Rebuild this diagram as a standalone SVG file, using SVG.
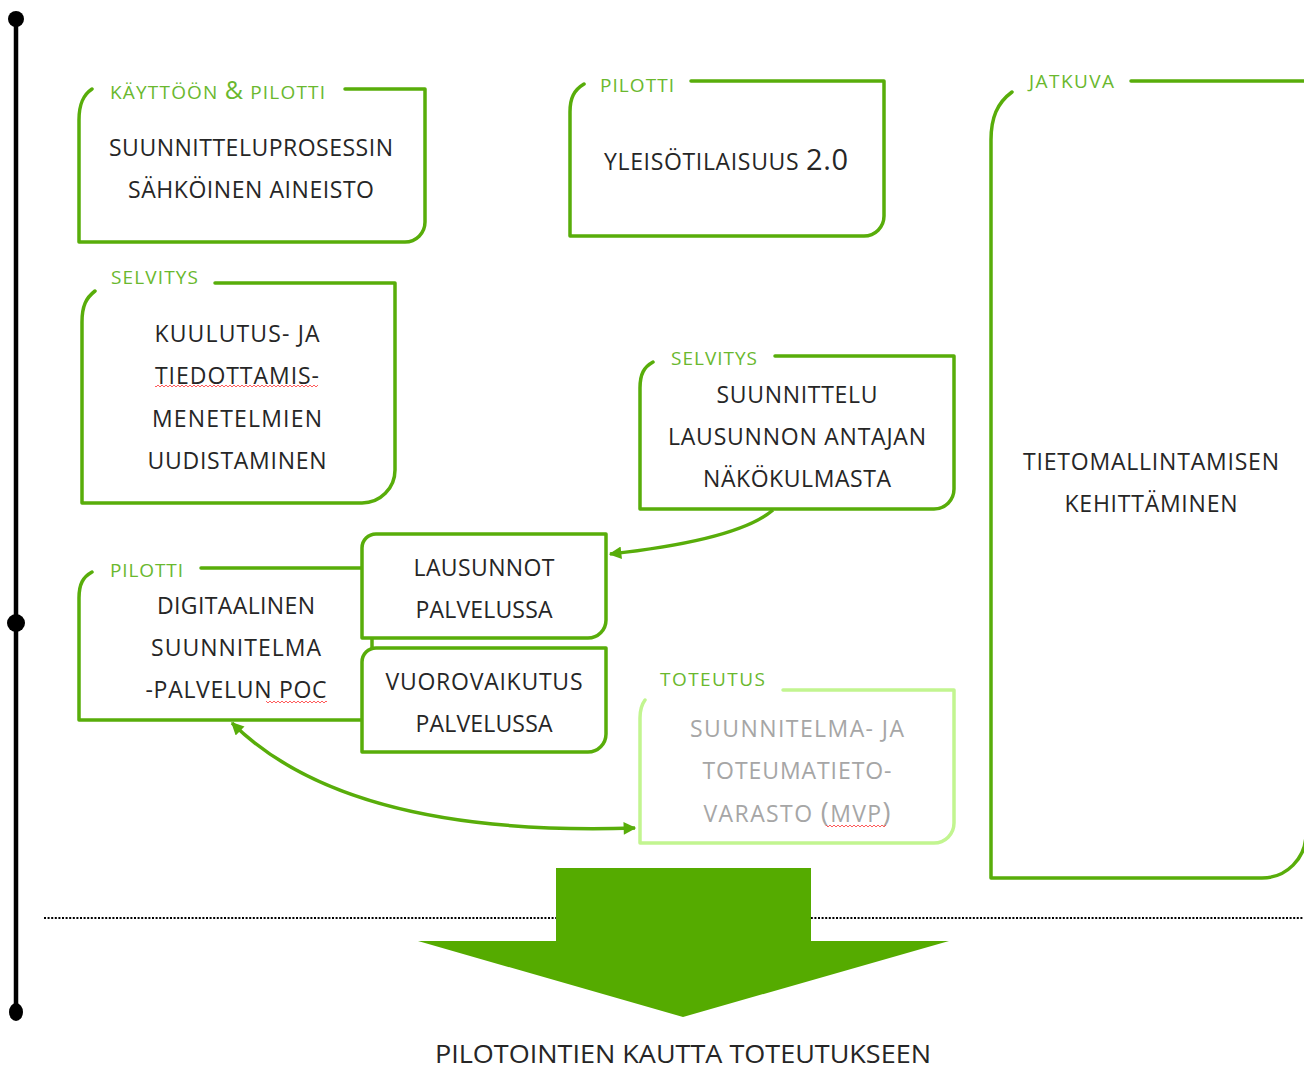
<svg xmlns="http://www.w3.org/2000/svg" width="1304" height="1070" viewBox="0 0 1304 1070">
<style>
.box{fill:none;stroke:#58ad0a;stroke-width:3.5;stroke-linecap:round;stroke-linejoin:round}
.boxw{fill:#fff;stroke:#58ad0a;stroke-width:3.5;stroke-linejoin:round}
.boxl{fill:none;stroke:#c2f590;stroke-width:3.5;stroke-linecap:round;stroke-linejoin:round}
.lbl{font-family:"Open Sans","Noto Sans",sans-serif;font-size:19px;fill:#6ab82e}
.t{font-family:"Open Sans","Noto Sans",sans-serif;font-size:23px;fill:#262626;text-anchor:middle}
.tg{font-family:"Open Sans","Noto Sans",sans-serif;font-size:23px;fill:#a6a6a6;text-anchor:middle}
.conn{fill:none;stroke:#58ad0a;stroke-width:3.5}
.sq{fill:url(#wavy)}
</style>
<defs>
<marker id="ah" viewBox="0 0 10 10" refX="9" refY="5" markerWidth="4" markerHeight="3.6" orient="auto-start-reverse" markerUnits="strokeWidth">
<path d="M0,0 L10,5 L0,10 z" fill="#58ad0a"/>
</marker>
<pattern id="wavy" x="0" y="0" width="4" height="4" patternUnits="userSpaceOnUse">
<path d="M0,3 L2,1 L4,3" fill="none" stroke="#ff4a4a" stroke-width="0.9"/>
</pattern>
</defs>
<rect width="1304" height="1070" fill="#fff"/>

<g id="timeline">
<line x1="16" y1="19" x2="16" y2="1012" stroke="#000" stroke-width="4.5"/>
<circle cx="16" cy="19" r="8" fill="#000"/>
<circle cx="16" cy="623" r="9" fill="#000"/>
<ellipse cx="16" cy="1012" rx="7" ry="9" fill="#000"/>
</g>

<g id="dotted-line">
<line x1="44" y1="918" x2="1304" y2="918" stroke="#000" stroke-width="2" stroke-dasharray="2,1.6"/>
</g>

<g id="big-arrow">
<path d="M556,868 H811 V941 H949 L683,1017 L418,941 H556 Z" fill="#55ab00"/>
<text x="683" y="1063" font-family="'Open Sans','Noto Sans',sans-serif" font-size="25" fill="#262626" text-anchor="middle" textLength="496" lengthAdjust="spacingAndGlyphs">PILOTOINTIEN KAUTTA TOTEUTUKSEEN</text>
</g>

<g id="node-kayttoon">
<path class="box" d="M92,89 C83,95 79,104 79,120 V242 H405 A20,20 0 0 0 425,222 V89 H345"/>
<text class="lbl" x="110" y="99" textLength="215">KÄYTTÖÖN <tspan font-size="25">&amp;</tspan> PILOTTI</text>
<text class="t" x="251" y="156" textLength="284">SUUNNITTELUPROSESSIN</text>
<text class="t" x="251" y="198" textLength="246">SÄHKÖINEN AINEISTO</text>
</g>

<g id="node-yleisotilaisuus">
<path class="box" d="M584,84 C574,90 570,98 570,112 V236 H864 A20,20 0 0 0 884,216 V81 H691"/>
<text class="lbl" x="600" y="92" textLength="74">PILOTTI</text>
<text class="t" x="726" y="170" textLength="244">YLEISÖTILAISUUS <tspan font-size="29">2.0</tspan></text>
</g>

<g id="node-jatkuva">
<path class="box" d="M1012,92 C997,103 991,118 991,140 V878 H1262 A44,44 0 0 0 1306,834"/>
<path class="box" d="M1131,81 H1310"/>
<text class="lbl" x="1029" y="88" textLength="85">JATKUVA</text>
<text class="t" x="1151" y="470" textLength="256">TIETOMALLINTAMISEN</text>
<text class="t" x="1151" y="512" textLength="173">KEHITTÄMINEN</text>
</g>

<g id="node-kuulutus">
<path class="box" d="M95,291 C86,298 82,306 82,322 V503 H362 A33,33 0 0 0 395,470 V283 H215"/>
<text class="lbl" x="111" y="284" textLength="87">SELVITYS</text>
<text class="t" x="237" y="342" textLength="165">KUULUTUS- JA</text>
<text class="t" x="237" y="384" textLength="164">TIEDOTTAMIS-</text>
<rect class="sq" x="155" y="385" width="163" height="4"/>
<text class="t" x="237" y="427" textLength="170">MENETELMIEN</text>
<text class="t" x="237" y="469" textLength="179">UUDISTAMINEN</text>
</g>

<g id="node-suunnittelu">
<path class="box" d="M653,362 C644,367 640,374 640,388 V509 H934 A20,20 0 0 0 954,489 V356 H775"/>
<text class="lbl" x="671" y="365" textLength="86">SELVITYS</text>
<text class="t" x="797" y="403" textLength="161">SUUNNITTELU</text>
<text class="t" x="797" y="445" textLength="258">LAUSUNNON ANTAJAN</text>
<text class="t" x="797" y="487" textLength="188">NÄKÖKULMASTA</text>
</g>

<g id="node-digitaalinen">
<path class="box" d="M92,572 C83,577 79,584 79,598 V720 H370"/>
<path class="box" d="M201,568 H370"/>
<text class="lbl" x="110" y="577" textLength="73">PILOTTI</text>
<text class="t" x="236" y="614" textLength="158">DIGITAALINEN</text>
<text class="t" x="236" y="656" textLength="170">SUUNNITELMA</text>
<text class="t" x="236" y="698" textLength="181">-PALVELUN POC</text>
<rect class="sq" x="266" y="700" width="61" height="4"/>
</g>

<g id="node-lausunnot">
<line x1="372" y1="638" x2="372" y2="648" stroke="#58ad0a" stroke-width="3.5"/>
<path class="boxw" d="M376,534 H606 V620 A18,18 0 0 1 588,638 H362 V548 A14,14 0 0 1 376,534 Z"/>
<text class="t" x="484" y="576" textLength="141">LAUSUNNOT</text>
<text class="t" x="484" y="618" textLength="137">PALVELUSSA</text>
</g>

<g id="node-vuorovaikutus">
<path class="boxw" d="M376,648 H606 V734 A18,18 0 0 1 588,752 H362 V662 A14,14 0 0 1 376,648 Z"/>
<text class="t" x="484" y="690" textLength="197">VUOROVAIKUTUS</text>
<text class="t" x="484" y="732" textLength="137">PALVELUSSA</text>
</g>

<g id="node-toteutus">
<path class="boxl" d="M645,700 C642,704 640,709 640,718 V843 H934 A20,20 0 0 0 954,823 V690 H783"/>
<text class="lbl" x="660" y="686" textLength="105">TOTEUTUS</text>
<text class="tg" x="797" y="737" textLength="214">SUUNNITELMA- JA</text>
<text class="tg" x="797" y="779" textLength="189">TOTEUMATIETO-</text>
<text class="tg" x="797" y="822" textLength="187">VARASTO <tspan font-size="27">(</tspan>MVP<tspan font-size="27">)</tspan></text>
<rect class="sq" x="826" y="824" width="60" height="4"/>
</g>

<g id="connectors">
<path class="conn" d="M773,510 Q738,540 610,554" marker-end="url(#ah)"/>
<path class="conn" d="M232,723 C300,790 420,835 635,828" marker-start="url(#ah)" marker-end="url(#ah)"/>
</g>
</svg>
